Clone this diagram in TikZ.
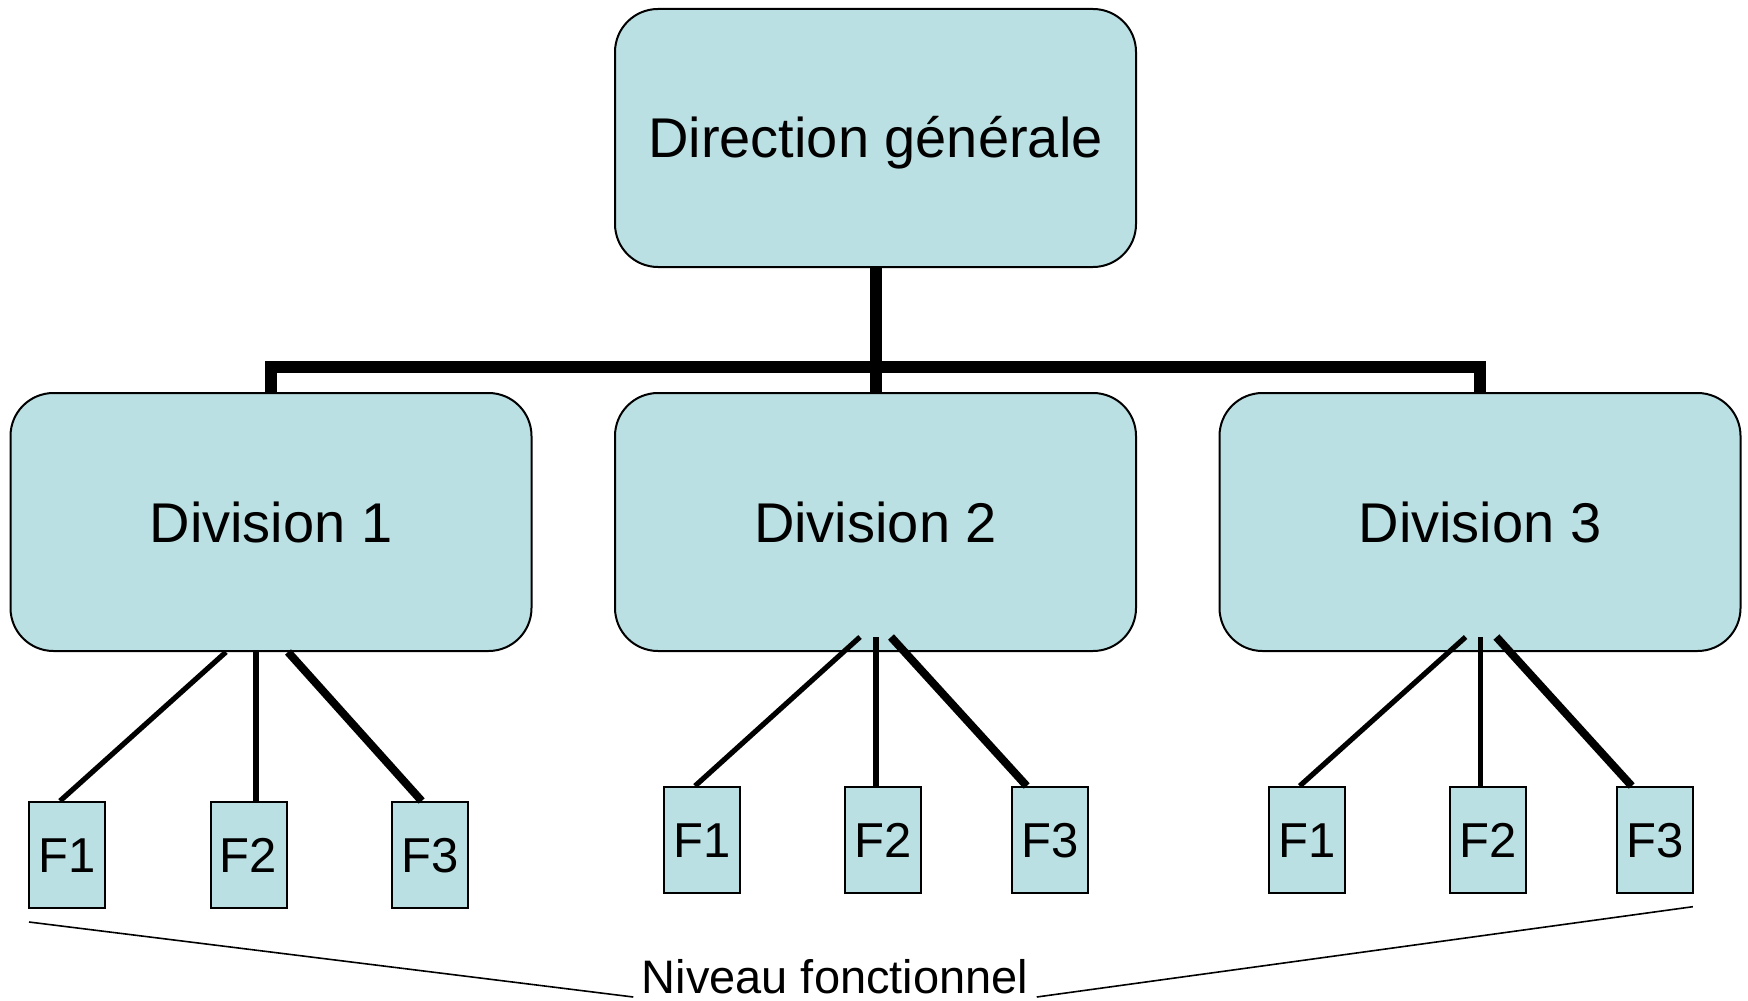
\documentclass[tikz,border=0pt]{standalone}
\usepackage{fontspec}
\setmainfont{Liberation Sans}
\usetikzlibrary{calc}
\definecolor{boxfill}{RGB}{187,224,227}
\begin{document}
\begin{tikzpicture}[x=0.5pt,y=-0.5pt,
  bigbox/.style={draw=black, line width=1pt, fill=boxfill, rounded corners=21.5pt,
    minimum width=260.5pt, minimum height=129pt, inner sep=0pt,
    text height=20pt, text depth=0pt,
    font=\fontsize{28}{32}\selectfont},
  fbox/.style={draw=black, line width=1pt, fill=boxfill,
    minimum width=38pt, minimum height=53pt, inner sep=0pt,
    text height=17.5pt, text depth=0pt,
    font=\fontsize{24.5}{28}\selectfont},
  trunk/.style={line width=6pt, line join=miter},
  link/.style={line width=2.6pt},
  linkthick/.style={line width=4pt}]
\useasboundingbox (0,0) rectangle (1748,1000);
\fill[white] (0,0) rectangle (1748,1000);

% hierarchy boxes
\node[bigbox] (top) at (875.5,138) {Direction générale};
\node[bigbox] (d1) at (271,522) {Division 1};
\node[bigbox] (d2) at (875.5,522) {Division 2};
\node[bigbox] (d3) at (1480,522) {Division 3};

% functional units
\node[fbox] (f11) at (67,855) {F1};
\node[fbox] (f12) at (248.5,855) {F2};
\node[fbox] (f13) at (430,855) {F3};
\node[fbox] (f21) at (702,840) {F1};
\node[fbox] (f22) at (883.3,840) {F2};
\node[fbox] (f23) at (1049.7,840) {F3};
\node[fbox] (f31) at (1306.7,840) {F1};
\node[fbox] (f32) at (1488.2,840) {F2};
\node[fbox] (f33) at (1654.7,840) {F3};

% trunk from the head office to the divisions
\coordinate (bar) at (876,366.7);
\draw[trunk] (top.south -| bar) -- (d2.north -| bar);
\draw[trunk] (d1.north) |- (bar) -| (d3.north);

% division to function links
\draw[link] ($(d1.south)+(-45,0)$) -- ($(f11.north)+(-7,0)$);
\draw[link] ($(d1.south)+(-15,0)$) -- ($(f12.north)+(7.5,0)$);
\draw[linkthick] ($(d1.south)+(17,0)$) -- ($(f13.north)+(-8.3,0)$);

\draw[link] ($(d2.south)+(-15.5,-15)$) -- ($(f21.north)+(-7,0)$);
\draw[link] ($(d2.south)+(0.5,-15)$) -- ($(f22.north)+(-7.3,0)$);
\draw[linkthick] ($(d2.south)+(15.5,-15)$) -- ($(f23.north)+(-23,0)$);

\draw[link] ($(d3.south)+(-14.4,-15)$) -- ($(f31.north)+(-7,0)$);
\draw[link] ($(d3.south)+(0.7,-15)$) -- ($(f32.north)+(-7.5,0)$);
\draw[linkthick] ($(d3.south)+(16.4,-15)$) -- ($(f33.north)+(-23,0)$);

% functional level brace
\node[inner sep=0pt, anchor=base, font=\fontsize{23.5}{27}\selectfont] (niv) at (835,993) {Niveau fonctionnel};
\coordinate (bl) at (29,922);
\coordinate (br) at (1692.8,906.7);
\draw[line width=0.8pt] (bl) -- ($(niv.base west)+(-8,4)$);
\draw[line width=0.8pt] (br) -- ($(niv.base east)+(8,4)$);
\end{tikzpicture}
\end{document}
